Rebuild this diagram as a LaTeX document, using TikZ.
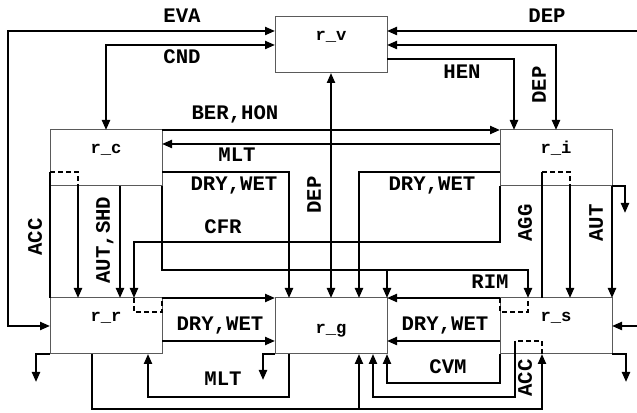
\documentclass[tikz,border=0pt]{standalone}
\usepackage{fontspec}
\usepackage{xcolor}
\usepackage{tikz}
\usetikzlibrary{arrows.meta,calc}
\newfontfamily\cour{Liberation Mono}
\definecolor{ink}{HTML}{000000}
\definecolor{frame}{HTML}{5A5A5A}
\tikzset{
  box/.style={draw=frame,line width=0.75pt,fill=white,minimum width=84pt,minimum height=42pt,inner sep=0pt,outer sep=0pt,
    font=\cour\bfseries\fontsize{12.9}{13}\selectfont,text height=4pt,text depth=10.8pt},
  boxlow/.style={text height=12pt,text depth=0pt},
  plain/.style={line width=1.6pt,draw=ink},
  flow/.style={plain,-{Triangle[length=7.5pt,width=6pt]}},
  bflow/.style={plain,{Triangle[length=7.5pt,width=6pt]}-{Triangle[length=7.5pt,width=6pt]}},
  hid/.style={plain,dash pattern=on 3.5pt off 2.5pt},
  lbl/.style={font=\cour\bfseries\fontsize{15.5}{16}\selectfont,inner sep=0pt,text depth=0pt},
  vlbl/.style={lbl,rotate=90}
}
\begin{document}
\begin{tikzpicture}[x=0.75pt,y=-0.75pt]
  \useasboundingbox (0,0) rectangle (637,413);
  \node[box] (rv) at (331,45) {r\_v};
  \node[box] (rc) at (106,158) {r\_c};
  \node[box] (ri) at (556,158) {r\_i};
  \node[box] (rr) at (106,326) {r\_r};
  \node[box,boxlow] (rg) at (331,326) {r\_g};
  \node[box] (rs) at (556,326) {r\_s};
  \coordinate (depin) at (637,31);
  \coordinate (rsin) at (637,326);

  \draw[bflow] ($(rv.north west)+(0,14)$) -| ($(rr.west)+(-42,0)$) -- (rr.west);
  \draw[bflow] (rv.west) -| (rc.north);
  \draw[flow] (depin) -- (depin -| rv.east);
  \draw[bflow] (rv.east) -| (ri.north);
  \draw[flow] ($(rv.east)+(0,14)$) -| ($(ri.north west)+(14,0)$);
  \draw[bflow] (rv.south) -- (rg.north);
  \draw[flow] (rc.north east) -- (ri.north west);
  \draw[flow] ($(ri.north west)+(0,14)$) -- ($(rc.north east)+(0,14)$);
  \draw[flow] ($(rc.south east)+(0,-14)$) -| ($(rg.north west)+(14,0)$);
  \draw[flow] ($(ri.south west)+(0,-14)$) -| ($(rg.north east)+(-28,0)$);
  \draw[flow] (ri.south west) -- ++(0,56) -| ($(rr.north east)+(-28,0)$);
  \draw[flow] (rc.south east) |- ($(rs.north west)+(28,-28)$) -- ($(rs.north west)+(28,0)$);
  \draw[flow] ($(rg.north east)+(0,-28)$) -- (rg.north east);

  \draw[plain] ($(rc.south west)+(0,-14)$) -- (rr.north west);
  \draw[hid] ($(rc.south west)+(0,-14)$) -| ($(rc.south west)+(28,0)$);
  \draw[flow] ($(rc.south west)+(28,0)$) -- ($(rr.north west)+(28,0)$);
  \draw[flow] ($(rc.south east)+(-42,0)$) -- ($(rr.north east)+(-42,0)$);
  \draw[plain] ($(ri.south west)+(42,-14)$) -- ($(rs.north west)+(42,0)$);
  \draw[hid] ($(ri.south west)+(42,-14)$) -| ($(ri.south west)+(70,0)$);
  \draw[flow] ($(ri.south west)+(70,0)$) -- ($(rs.north west)+(70,0)$);
  \draw[flow] (ri.south east) -- (rs.north east);
  \draw[flow] (ri.south east) -- ++(13,0) -- ++(0,27);

  \draw[hid] ($(rr.north east)+(-28,0)$) -- ++(0,14) -| (rr.north east);
  \draw[flow] (rr.north east) -- (rg.north west);
  \draw[flow] ($(rr.south east)+(0,-13)$) -- ($(rg.south west)+(0,-13)$);
  \draw[hid] (rs.north west) -- ++(0,14) -| ($(rs.north west)+(28,0)$);
  \draw[flow] (rs.north west) -- (rg.north east);
  \draw[flow] ($(rs.south west)+(0,-13)$) -- ($(rg.south east)+(0,-13)$);
  \draw[flow] (rsin) -- (rs.east);
  \draw[flow] (rs.south east) -- ++(14,0) -- ++(0,28);
  \draw[flow] (rr.south west) -- ++(-14,0) -- ++(0,28);
  \draw[flow] (rg.south west) -- ++(-12,0) -- ++(0,26);

  \draw[flow] ($(rg.south west)+(14,0)$) -- ++(0,43) -| ($(rr.south east)+(-14,0)$);
  \draw[flow] ($(rr.south west)+(42,0)$) -- ++(0,55) -| ($(rs.south west)+(42,0)$);
  \draw[flow] ($(rg.south east)+(-28,55)$) -- ($(rg.south east)+(-28,0)$);
  \draw[hid] ($(rs.south west)+(42,0)$) -- ++(0,-13) -- ++(-27,0);
  \draw[flow] ($(rs.south west)+(15,-13)$) -- ++(0,56) -| ($(rg.south east)+(-14,0)$);
  \draw[flow] (rs.south west) -- ++(0,29) -| (rg.south east);

  \node[lbl] (leva) at (182,16) {EVA};
  \node[lbl] (lcnd) at (182,57) {CND};
  \node[lbl] (ldep) at (547,16) {DEP};
  \node[lbl] (lhen) at (462,72) {HEN};
  \node[vlbl] (ldepi) at (539,85) {DEP};
  \node[vlbl] (ldepg) at (314,195) {DEP};
  \node[lbl] (lber) at (235,113) {BER,HON};
  \node[lbl] (lmlt) at (237,155) {MLT};
  \node[lbl] (ldwc) at (234,184) {DRY,WET};
  \node[lbl] (ldwi) at (432,184) {DRY,WET};
  \node[lbl] (lcfr) at (223,227) {CFR};
  \node[vlbl] (lacc) at (35,237) {ACC};
  \node[vlbl] (lshd) at (103,240) {AUT,SHD};
  \node[vlbl] (lagg) at (525,223) {AGG};
  \node[vlbl] (lauti) at (596,223) {AUT};
  \node[lbl] (lrim) at (490,282) {RIM};
  \node[lbl] (ldwr) at (220,324) {DRY,WET};
  \node[lbl] (ldws) at (445,324) {DRY,WET};
  \node[lbl] (lmltb) at (223,379) {MLT};
  \node[lbl] (lcvm) at (448,367) {CVM};
  \node[vlbl] (laccs) at (525,378) {ACC};
\end{tikzpicture}
\end{document}
